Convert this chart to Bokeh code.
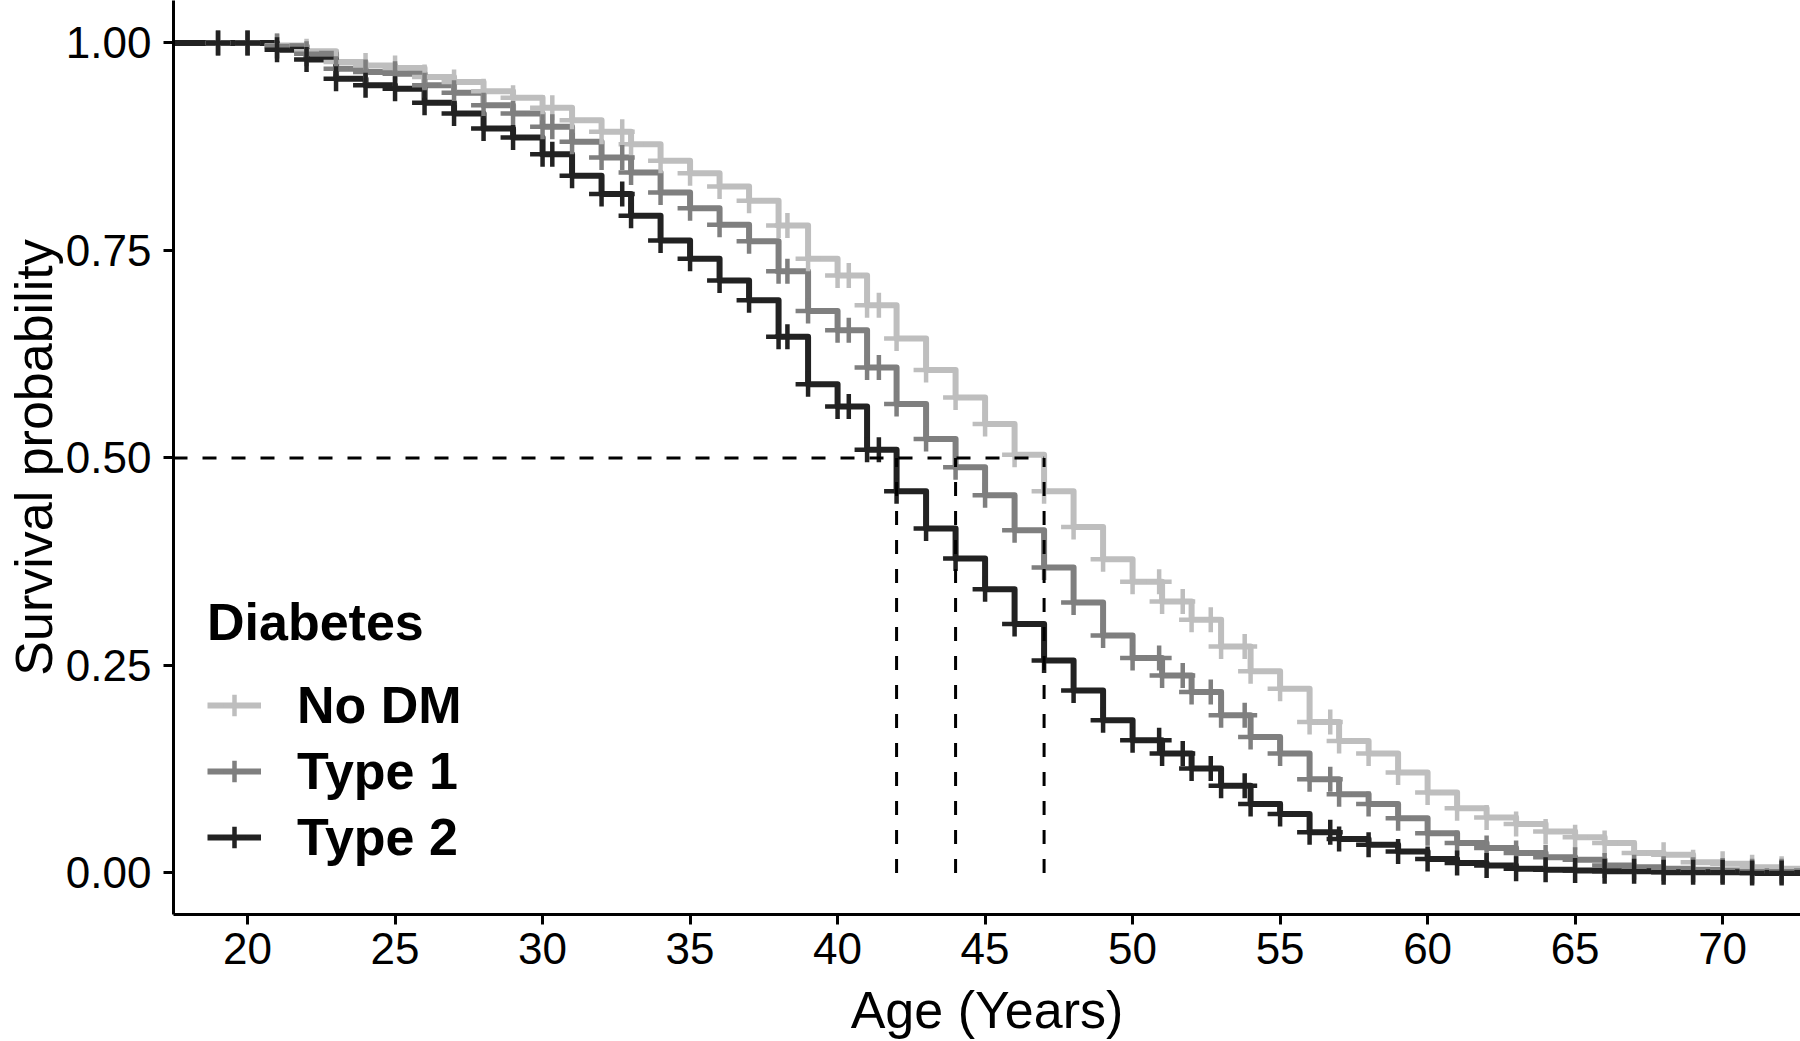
import math
from bokeh.plotting import figure
from bokeh.models import (Range1d, FixedTicker, Legend, LegendItem,
                          PrintfTickFormatter)
from bokeh.embed import file_html
from bokeh.resources import INLINE

# ---------------- data ----------------
ages = list(range(17, 73))

no_dm = [1.0, 1.0, 1.0, 1.0, 0.997, 0.990, 0.977, 0.973, 0.970, 0.959,
         0.953, 0.942, 0.934, 0.922, 0.907, 0.893, 0.878, 0.858, 0.843, 0.827,
         0.810, 0.780, 0.740, 0.720, 0.684, 0.644, 0.606, 0.573, 0.541, 0.504,
         0.460, 0.417, 0.378, 0.351, 0.327, 0.305, 0.273, 0.243, 0.222, 0.182,
         0.159, 0.144, 0.121, 0.097, 0.078, 0.067, 0.059, 0.050, 0.043, 0.036,
         0.024, 0.022, 0.013, 0.011, 0.007, 0.005]

type1 = [1.0, 1.0, 1.0, 1.0, 0.996, 0.987, 0.969, 0.965, 0.963, 0.949,
         0.940, 0.925, 0.915, 0.899, 0.881, 0.862, 0.844, 0.820, 0.801, 0.781,
         0.761, 0.725, 0.677, 0.654, 0.609, 0.565, 0.523, 0.489, 0.455, 0.413,
         0.368, 0.326, 0.286, 0.259, 0.238, 0.218, 0.190, 0.164, 0.144, 0.113,
         0.095, 0.083, 0.066, 0.048, 0.036, 0.030, 0.024, 0.019, 0.016, 0.009,
         0.007, 0.005, 0.004, 0.003, 0.002, 0.002]

type2 = [1.0, 1.0, 1.0, 1.0, 0.992, 0.980, 0.957, 0.949, 0.945, 0.928,
         0.915, 0.897, 0.886, 0.866, 0.840, 0.818, 0.792, 0.762, 0.740, 0.714,
         0.690, 0.646, 0.589, 0.562, 0.510, 0.460, 0.415, 0.379, 0.342, 0.300,
         0.256, 0.220, 0.184, 0.160, 0.144, 0.126, 0.105, 0.083, 0.071, 0.049,
         0.041, 0.034, 0.026, 0.017, 0.012, 0.009, 0.005, 0.004, 0.003, 0.002,
         0.002, 0.001, 0.001, 0.001, 0.000, 0.000]

censor_ages = list(range(19, 73))
extra_censor_ages = [30.33, 32.7, 38.3, 40.38, 41.4, 50.9, 51.7, 52.65, 53.8, 56.7]

series_names = ["No DM", "Type 1", "Type 2"]
series_values = [no_dm, type1, type2]
series_colors = ["#BEBEBE", "#7F7F7F", "#222222"]

x_ticks = [20, 25, 30, 35, 40, 45, 50, 55, 60, 65, 70]
y_ticks = [0.0, 0.25, 0.5, 0.75, 1.0]

x_title = "Age (Years)"
y_title = "Survival probability"
legend_title = "Diabetes"

x_start, x_end = 17.49, 72.64
y_start, y_end = -0.05, 1.0512

FONT = "Liberation Sans"

# ---------------- figure ----------------
p = figure(width=1800, height=1041, x_range=Range1d(x_start, x_end),
           y_range=Range1d(y_start, y_end), output_backend="svg",
           toolbar_location=None)
p.min_border = 0
p.min_border_left = 173
p.min_border_top = 0
p.min_border_right = 0
p.min_border_bottom = 127
p.outline_line_color = None
p.xgrid.visible = False
p.ygrid.visible = False
p.background_fill_color = "white"
p.border_fill_color = "white"


def value_at(vals, t):
    idx = max(i for i, a in enumerate(ages) if a <= t)
    return vals[idx]


line_rs = []
for name, vals, col in zip(series_names, series_values, series_colors):
    xs = ages + [ages[-1] + 1]
    ys = vals + [vals[-1]]
    r = p.step(xs, ys, mode="after", line_color=col, line_width=6,
               line_join="round")
    line_rs.append(r)

mark_rs = []
for name, vals, col in zip(series_names, series_values, series_colors):
    cx = censor_ages + extra_censor_ages
    cy = [value_at(vals, t) for t in cx]
    rk = p.scatter(cx, cy, marker="cross", size=25, line_color=col,
                   line_width=4.5)
    mark_rs.append(rk)

# median reference lines
medians = []
for vals in series_values:
    m = next(a for a, v in zip(ages, vals) if v <= 0.5)
    medians.append(m)
p.segment(x0=[x_start], y0=[0.5], x1=[max(medians)], y1=[0.5],
          line_color="black", line_width=3, line_dash="14 15")
p.segment(x0=medians, y0=[0] * len(medians), x1=medians,
          y1=[0.5] * len(medians), line_color="black", line_width=3,
          line_dash="14 15")

legend_items = [LegendItem(label=n, renderers=[lr, rk])
                for n, lr, rk in zip(series_names, line_rs, mark_rs)]

legend = Legend(items=legend_items, location=(30, 43), title=legend_title)
legend.title_text_font = FONT
legend.title_text_font_size = "52px"
legend.title_text_font_style = "bold"
legend.title_text_color = "black"
legend.title_standoff = 23
legend.label_text_font = FONT
legend.label_text_font_size = "52px"
legend.label_text_font_style = "bold"
legend.label_text_color = "black"
legend.label_standoff = 36
legend.label_height = 56
legend.glyph_height = 56
legend.glyph_width = 54
legend.spacing = 6
legend.padding = 4
legend.margin = 0
legend.background_fill_alpha = 0
legend.border_line_alpha = 0
p.add_layout(legend)

# axes
p.xaxis.ticker = FixedTicker(ticks=x_ticks)
p.yaxis.ticker = FixedTicker(ticks=y_ticks)
p.yaxis.formatter = PrintfTickFormatter(format="%.2f")
p.xaxis.axis_label = x_title
p.yaxis.axis_label = y_title
for ax in (p.xaxis[0], p.yaxis[0]):
    ax.axis_line_width = 3
    ax.axis_line_color = "black"
    ax.major_tick_line_width = 3
    ax.major_tick_line_color = "black"
    ax.major_tick_out = 10
    ax.major_tick_in = 0
    ax.minor_tick_out = 0
    ax.minor_tick_in = 0
    ax.major_label_text_font = FONT
    ax.major_label_text_font_size = "44px"
    ax.major_label_text_color = "black"
    ax.major_label_text_line_height = 0.9
    ax.axis_label_text_font = FONT
    ax.axis_label_text_font_size = "52px"
    ax.axis_label_text_font_style = "normal"
    ax.axis_label_text_color = "black"
    ax.axis_label_text_line_height = 0.8
p.xaxis.major_label_standoff = 8
p.xaxis.axis_label_standoff = 14
p.yaxis.major_label_standoff = 12
p.yaxis.axis_label_standoff = 0

open("out.html", "w").write(file_html(p, INLINE))
